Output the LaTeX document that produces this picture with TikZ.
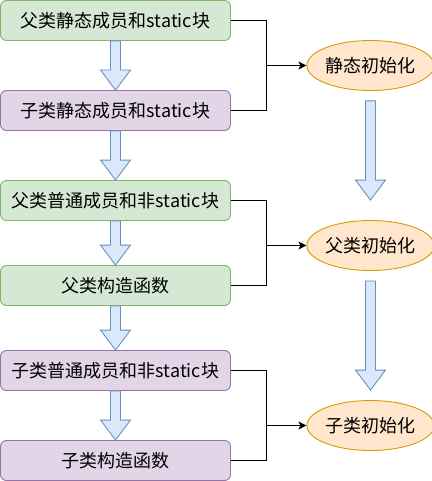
\documentclass[tikz,border=0pt]{standalone}
\usepackage{fontspec}
\setmainfont{Noto Sans CJK SC}
\usetikzlibrary{calc,arrows.meta,shapes.geometric}
\definecolor{gfill}{HTML}{D5E8D4}
\definecolor{gline}{HTML}{82B366}
\definecolor{pfill}{HTML}{E1D5E7}
\definecolor{pline}{HTML}{9673A6}
\definecolor{ofill}{HTML}{FFE6CC}
\definecolor{oline}{HTML}{D79B00}
\definecolor{bfill}{HTML}{DAE8FC}
\definecolor{bline}{HTML}{6C8EBF}
\tikzset{
  box/.style={draw, rounded corners=6pt, minimum width=230pt, minimum height=40pt,
    inner sep=0pt, font=\fontsize{18pt}{20pt}\selectfont, line width=0.9pt},
  gbox/.style={box, fill=gfill, draw=gline},
  pbox/.style={box, fill=pfill, draw=pline},
  oval/.style={ellipse, draw=oline, fill=ofill, minimum width=120pt, minimum height=50pt,
    inner sep=0pt, font=\fontsize{18pt}{20pt}\selectfont, line width=0.9pt},
  fatarr/.style={draw=bline, fill=bfill, line width=0.9pt, line join=miter},
  conn/.style={draw=black, line width=0.8pt},
  connarr/.style={conn, -{Stealth[length=8pt,width=8pt,inset=2pt]}},
}
\newcommand{\fatarrow}[2]{%
  \path[fatarr] ($(#1)+(-5,0)$) -- ($(#2)+(-5,-20)$) -- ($(#2)+(-15,-20)$) -- (#2)
    -- ($(#2)+(15,-20)$) -- ($(#2)+(5,-20)$) -- ($(#1)+(5,0)$) -- cycle;}
\begin{document}
\begin{tikzpicture}[x=1pt,y=-1pt]
\useasboundingbox (0,0) rectangle (431,481);
\node[gbox] (b1) at (115.5,20.5) {父类静态成员和static块};
\node[pbox] (b2) at (115.5,110.5) {子类静态成员和static块};
\node[gbox] (b3) at (115.5,200.5) {父类普通成员和非static块};
\node[gbox] (b4) at (115.5,285.5) {父类构造函数};
\node[pbox] (b5) at (115.5,370.5) {子类普通成员和非static块};
\node[pbox] (b6) at (115.5,460.5) {子类构造函数};
\node[oval] (e1) at (370.5,65.5) {静态初始化};
\node[oval] (e2) at (370.5,245.5) {父类初始化};
\node[oval] (e3) at (370.5,425.5) {子类初始化};
% left block arrows
\fatarrow{b1.south}{b2.north}
\fatarrow{b2.south}{b3.north}
\fatarrow{b3.south}{b4.north}
\fatarrow{b4.south}{b5.north}
\fatarrow{b5.south}{b6.north}
% right block arrows
\coordinate (r1s) at ($(e1.south)+(0,10)$);
\coordinate (r1e) at ($(e2.north)+(0,-20)$);
\coordinate (r2s) at ($(e2.south)+(0,10)$);
\coordinate (r2e) at ($(e3.north)+(0,-10)$);
\fatarrow{r1s}{r1e}
\fatarrow{r2s}{r2e}
% connectors
\coordinate (j1) at ($(e1.west)+(-40,0)$);
\coordinate (j2) at ($(e2.west)+(-40,0)$);
\coordinate (j3) at ($(e3.west)+(-40,0)$);
\draw[conn] (b1.east) -| (j1);
\draw[conn] (b2.east) -| (j1);
\draw[connarr] (j1) -- (e1.west);
\draw[conn] (b3.east) -| (j2);
\draw[conn] (b4.east) -| (j2);
\draw[connarr] (j2) -- (e2.west);
\draw[conn] (b5.east) -| (j3);
\draw[conn] (b6.east) -| (j3);
\draw[connarr] (j3) -- (e3.west);
\end{tikzpicture}
\end{document}
